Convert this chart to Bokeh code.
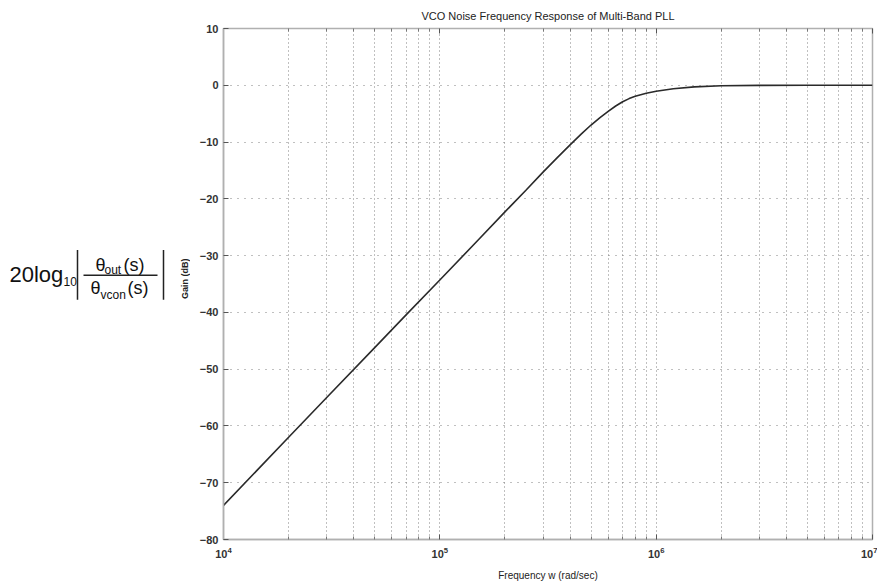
import math
from bokeh.plotting import figure
from bokeh.models import Range1d, FixedTicker, CustomJSTickFormatter, LogAxis
from bokeh.layouts import row
from bokeh.core.properties import value
from bokeh.embed import file_html
from bokeh.resources import INLINE

# ---- data ----
freq = [1e4, 2e4, 3e4, 5e4, 7e4, 1e5, 1.5e5, 2e5, 2.5e5, 3e5, 3.5e5, 4e5, 4.5e5,
        5e5, 5.5e5, 6e5, 6.5e5, 7e5, 7.5e5, 8e5, 9e5, 1e6, 1.2e6, 1.5e6, 2e6, 3e6, 5e6, 1e7]
gain = [-74.0, -62.0, -55.0, -46.2, -40.4, -34.3, -27.3, -22.3, -18.5, -15.3, -12.7, -10.5, -8.6,
        -7.0, -5.7, -4.6, -3.65, -2.9, -2.35, -1.95, -1.4, -1.05, -0.6, -0.28, -0.08, -0.02, 0.0, 0.0]
x_ticks = [1e4, 1e5, 1e6, 1e7]
y_ticks = [-80, -70, -60, -50, -40, -30, -20, -10, 0, 10]
x_minor = [m * d for d in [1e4, 1e5, 1e6] for m in range(2, 10)]

FONT = "Liberation Sans"
GRID = "#808080"
FRAME = "#b0b0b0"

# ---- main plot ----
p = figure(width=687, height=584, x_axis_type="log",
           x_range=Range1d(1e4, 1e7), y_range=Range1d(-80, 10),
           output_backend="svg", toolbar_location=None,
           min_border_left=33, min_border_right=5, min_border_top=28, min_border_bottom=45,
           title="VCO Noise Frequency Response of Multi-Band PLL")
p.title.align = "center"
p.title.vertical_align = "top"
p.title.text_font = FONT
p.title.text_font_size = "11px"
p.title.text_font_style = "normal"
p.title.text_color = "#222222"
p.title.standoff = 10
p.title.offset = 0

p.outline_line_color = FRAME
p.outline_line_width = 1.5

p.xaxis.ticker = FixedTicker(ticks=x_ticks, minor_ticks=x_minor)
p.yaxis.ticker = FixedTicker(ticks=y_ticks)

for ax in (p.xaxis, p.yaxis):
    ax.axis_line_color = FRAME
    ax.axis_line_width = 1.5
    ax.major_tick_in = 5
    ax.major_tick_out = 0
    ax.minor_tick_in = 3
    ax.minor_tick_out = 0
    ax.major_tick_line_color = "#555555"
    ax.minor_tick_line_color = "#777777"
    ax.major_label_text_font = FONT
    ax.major_label_text_font_size = "11px"
    ax.major_label_text_font_style = "bold"
    ax.major_label_text_color = "#333333"
    ax.axis_label_text_font = FONT
    ax.axis_label_text_font_style = "normal"
    ax.axis_label_text_color = "#222222"

p.yaxis.minor_tick_line_color = None
p.yaxis.major_label_standoff = 5
p.xaxis.major_label_standoff = 7
p.xaxis.axis_label = "Frequency w (rad/sec)"
p.xaxis.axis_label_text_font_size = "10px"
p.xaxis.axis_label_standoff = 9

top = LogAxis(ticker=FixedTicker(ticks=x_ticks, minor_ticks=x_minor),
              formatter=CustomJSTickFormatter(code="return ''"),
              major_tick_in=5, major_tick_out=0, minor_tick_in=3, minor_tick_out=0,
              major_tick_line_color="#555555", minor_tick_line_color="#777777",
              axis_line_color=FRAME, major_label_standoff=0,
              major_label_text_font_size="1px")
p.add_layout(top, "above")

p.xgrid.grid_line_color = GRID
p.xgrid.grid_line_dash = "1 3"
p.xgrid.minor_grid_line_color = GRID
p.xgrid.minor_grid_line_dash = "1 3"
p.ygrid.grid_line_color = GRID
p.ygrid.grid_line_dash = "1 6"

p.line(freq, gain, line_color="#2a2a2a", line_width=1.6)

# ---- left expression panel (also carries the y-axis title) ----
fl = figure(width=190, height=584, x_range=Range1d(0, 190), y_range=Range1d(584, 0),
            output_backend="svg", toolbar_location=None, min_border=0,
            x_axis_location=None, y_axis_location=None)
fl.grid.visible = False
fl.outline_line_color = None

def txt(x, y, s, size, style="normal", angle=0.0, align="left", color="#111111"):
    fl.text(x=[x], y=[y], text=[s], text_font=value(FONT), text_font_size=value(size),
            text_font_style=style, angle=angle,
            text_align=align, text_baseline="middle", text_color=color)

txt(9, 281, "20log", "22px")
txt(63, 289, "10", "12px")
txt(95, 270, "\u03b8", "18px")
txt(104, 276, "out", "12px")
txt(123, 270, "(s)", "18px")
txt(90, 297, "\u03b8", "18px")
txt(100, 305, "vcon", "12px")
txt(127, 297, "(s)", "18px")
fl.segment(x0=[77, 163, 83], y0=[253, 253, 282], x1=[77, 163, 157], y1=[310, 310, 282],
           line_color="#222222", line_width=1.5)
txt(184, 286, "Gain (dB)", "9px", style="bold", angle=math.pi / 2, align="center",
    color="#222222")

layout = row(fl, p)
open("out.html", "w").write(file_html(layout, INLINE))
